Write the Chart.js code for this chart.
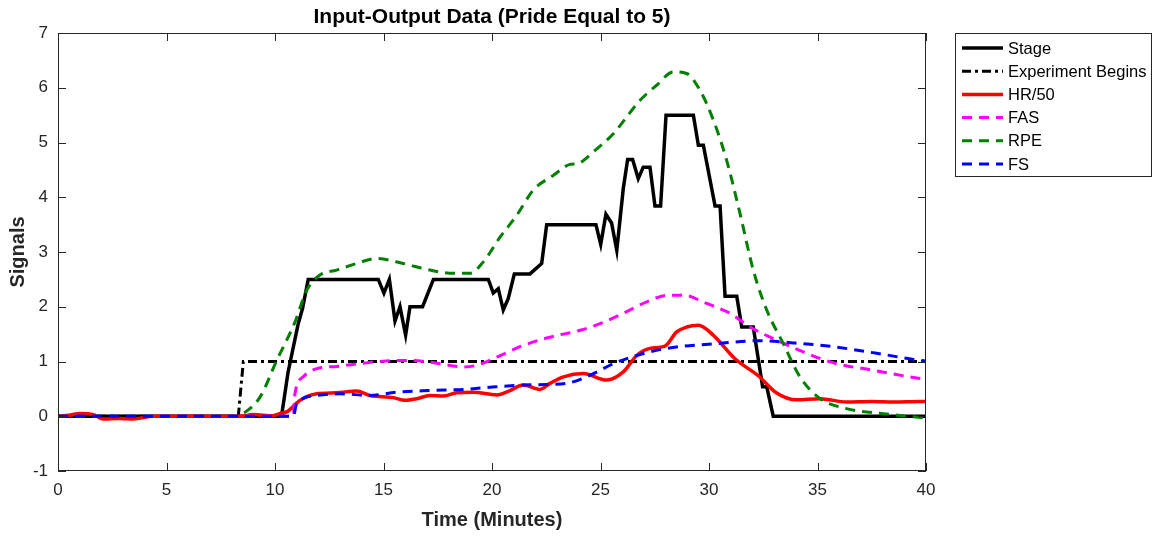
<!DOCTYPE html>
<html>
<head>
<meta charset="utf-8">
<script src="https://cdn.jsdelivr.net/npm/chart.js@4.4.1/dist/chart.umd.min.js"></script>
<style>
  html, body { margin: 0; padding: 0; background: #fff; }
</style>
</head>
<body>
<canvas id="chart" width="1154" height="536"></canvas>
<script>
// values (time in minutes)
const stageT = [0, 10.3, 10.6, 11.07, 11.27, 11.53, 14.76, 15.02, 15.27, 15.53, 15.76, 16.02, 16.22, 16.8, 17.3, 19.83, 20.06, 20.29, 20.52, 20.75, 21.03, 21.75, 22.29, 22.52, 24.79, 25.01, 25.25, 25.51, 25.75, 26.05, 26.25, 26.48, 26.74, 26.97, 27.28, 27.51, 27.77, 28.02, 29.28, 29.51, 29.74, 30.28, 30.51, 30.74, 31.28, 31.51, 32.04, 32.47, 32.66, 32.96, 40];
const stageV = [0, 0, 0.8, 1.69, 1.97, 2.5, 2.5, 2.25, 2.5, 1.74, 2.0, 1.48, 2.0, 2.0, 2.5, 2.5, 2.25, 2.33, 1.94, 2.15, 2.6, 2.6, 2.79, 3.5, 3.5, 3.14, 3.69, 3.53, 3.03, 4.16, 4.69, 4.69, 4.34, 4.55, 4.55, 3.84, 3.84, 5.5, 5.5, 4.95, 4.95, 3.84, 3.84, 2.19, 2.19, 1.63, 1.63, 0.54, 0.54, 0, 0];

const expT = [0, 8.31, 8.54, 40];
const expV = [0, 0, 1, 1];

const hrT = [0, 0.5, 1.0, 1.63, 2.09, 2.8, 3.47, 4.4, 5.5, 6.5, 7.5, 8.39, 9.0, 9.92, 10.23, 10.54, 11.0, 11.15, 11.92, 12.84, 13.76, 14.38, 15.45, 15.99, 16.53, 17.14, 17.76, 18.37, 19.14, 20.22, 20.83, 21.44, 22.21, 22.67, 23.29, 24.21, 25.28, 26.05, 26.67, 27.28, 27.97, 28.51, 28.97, 29.51, 30.2, 31.2, 32.3, 33.1, 34.04, 35.12, 36.34, 37.5, 38.5, 39.72, 40];
const hrV = [0, 0.02, 0.05, 0.03, -0.05, -0.04, -0.05, 0, 0, 0, 0, 0, 0.03, 0.01, 0.05, 0.08, 0.24, 0.29, 0.41, 0.43, 0.46, 0.38, 0.34, 0.29, 0.32, 0.38, 0.37, 0.43, 0.44, 0.39, 0.47, 0.57, 0.49, 0.6, 0.72, 0.78, 0.66, 0.81, 1.11, 1.24, 1.28, 1.54, 1.63, 1.66, 1.48, 1.05, 0.73, 0.43, 0.30, 0.32, 0.26, 0.27, 0.26, 0.27, 0.27];

const fasT = [0, 10.84, 10.92, 11.3, 11.92, 12.84, 14.07, 15.14, 16.22, 17.45, 18.68, 19.29, 20.22, 21.29, 22.52, 24.06, 24.98, 26.05, 27.13, 28.12, 28.82, 29.89, 30.97, 31.89, 33.12, 34.5, 35.88, 37.57, 39.72, 40];
const fasV = [0, 0, 0.41, 0.72, 0.87, 0.91, 0.97, 1.01, 1.02, 0.97, 0.90, 0.93, 1.08, 1.27, 1.43, 1.57, 1.69, 1.88, 2.09, 2.21, 2.21, 2.06, 1.88, 1.63, 1.39, 1.15, 0.96, 0.84, 0.69, 0.68];

const rpeT = [0, 8.3, 8.54, 9.31, 10.08, 10.92, 11.46, 12.07, 12.84, 13.76, 14.69, 15.91, 17.14, 18.22, 18.99, 19.6, 20.37, 21.14, 21.9, 22.83, 23.59, 23.98, 24.67, 25.59, 26.82, 27.6, 28.36, 28.97, 29.59, 30.2, 30.81, 31.43, 32.04, 32.66, 33.42, 34.19, 35.12, 36.34, 38.19, 39.66, 40];
const rpeV = [0, 0, 0.05, 0.35, 1.02, 1.72, 2.30, 2.58, 2.67, 2.79, 2.88, 2.79, 2.67, 2.61, 2.61, 2.82, 3.27, 3.67, 4.13, 4.40, 4.60, 4.62, 4.83, 5.16, 5.77, 6.05, 6.29, 6.26, 5.95, 5.41, 4.68, 3.70, 2.67, 1.94, 1.33, 0.72, 0.32, 0.14, 0.04, -0.02, -0.03];

const fsT = [0, 10.84, 11.0, 11.92, 13.0, 14.38, 15.61, 17.14, 18.68, 20.22, 21.44, 22.52, 23.44, 24.52, 25.59, 26.67, 28.05, 30.2, 32.35, 33.88, 35.73, 37.73, 39.72, 40];
const fsV = [0, 0, 0.23, 0.38, 0.41, 0.38, 0.44, 0.47, 0.49, 0.54, 0.57, 0.58, 0.60, 0.75, 0.96, 1.11, 1.24, 1.32, 1.38, 1.34, 1.27, 1.15, 1.02, 1.01];

const xTicks = [0, 5, 10, 15, 20, 25, 30, 35, 40];
const yTicks = [-1, 0, 1, 2, 3, 4, 5, 6, 7];

const axisColor = '#262626';
const font = '"Liberation Sans", Arial, Helvetica, sans-serif';

function pts(t, v) {
    return t.map((x, i) => ({ x: x, y: v[i] }));
}

function series(label, t, v, color, dash, width, order, smooth) {
    return {
        label: label,
        data: pts(t, v),
        borderColor: color,
        backgroundColor: color,
        borderWidth: width,
        borderDash: dash,
        pointRadius: 0,
        fill: false,
        order: order,
        cubicInterpolationMode: smooth ? 'monotone' : 'default',
        tension: 0
    };
}

// MATLAB-like box, inner ticks, title and legend
const matlabFrame = {
    id: 'matlabFrame',
    afterDatasetsDraw(chart) {
        const ctx = chart.ctx;
        const a = chart.chartArea;
        const xs = chart.scales.x, ys = chart.scales.y;
        ctx.save();
        ctx.strokeStyle = axisColor;
        ctx.lineWidth = 1;
        ctx.strokeRect(a.left + 0.5, a.top + 0.5, a.right - a.left - 1, a.bottom - a.top - 1);
        ctx.beginPath();
        xTicks.forEach(v => {
            const px = Math.round(xs.getPixelForValue(v)) + 0.5;
            ctx.moveTo(px, a.bottom); ctx.lineTo(px, a.bottom - 8);
            ctx.moveTo(px, a.top); ctx.lineTo(px, a.top + 8);
        });
        yTicks.forEach(v => {
            const py = Math.round(ys.getPixelForValue(v)) + 0.5;
            ctx.moveTo(a.left, py); ctx.lineTo(a.left + 8, py);
            ctx.moveTo(a.right, py); ctx.lineTo(a.right - 8, py);
        });
        ctx.stroke();

        // title
        ctx.fillStyle = '#000';
        ctx.font = 'bold 21px ' + font;
        ctx.textAlign = 'center';
        ctx.textBaseline = 'middle';
        ctx.fillText('Input-Output Data (Pride Equal to 5)', (a.left + a.right) / 2, 17);

        // legend
        const lx = 955, ly = 33, lw = 197, lh = 144;
        ctx.fillStyle = '#fff';
        ctx.fillRect(lx, ly, lw, lh);
        ctx.strokeStyle = axisColor;
        ctx.strokeRect(lx + 0.5, ly + 0.5, lw - 1, lh - 1);
        ctx.font = '16.5px ' + font;
        ctx.textAlign = 'left';
        chart.data.datasets.forEach((ds, i) => {
            const y = ly + 15 + i * 23.2;
            ctx.beginPath();
            ctx.strokeStyle = ds.borderColor;
            ctx.lineWidth = ds.borderWidth;
            ctx.setLineDash(ds.borderDash || []);
            ctx.moveTo(962, y);
            ctx.lineTo(1003, y);
            ctx.stroke();
            ctx.setLineDash([]);
            ctx.fillStyle = '#000';
            ctx.fillText(ds.label, 1008, y + 1);
        });
        ctx.restore();
    }
};

const chart = new Chart(document.getElementById('chart'), {
    type: 'line',
    data: {
        datasets: [
            series('Stage', stageT, stageV, '#000000', [], 3.5, 6, false),
            series('Experiment Begins', expT, expV, '#000000', [9, 4, 3, 4], 3, 5, false),
            series('HR/50', hrT, hrV, '#ff0000', [], 3.5, 4, true),
            series('FAS', fasT, fasV, '#ff00ff', [10, 7], 3, 3, true),
            series('RPE', rpeT, rpeV, '#008000', [10, 7], 3, 2, true),
            series('FS', fsT, fsV, '#0000ff', [10, 7], 3, 1, true)
        ]
    },
    options: {
        responsive: false,
        animation: false,
        layout: { padding: { top: 33, right: 228, left: 0, bottom: 0 } },
        plugins: {
            legend: { display: false },
            tooltip: { enabled: false },
            title: { display: false }
        },
        scales: {
            x: {
                type: 'linear',
                min: 0, max: 40,
                afterFit: s => { s.height = 65; },
                afterBuildTicks: s => { s.ticks = xTicks.map(v => ({ value: v })); },
                grid: { display: false, drawTicks: false },
                border: { display: false },
                ticks: { color: axisColor, font: { family: font, size: 17 }, padding: 9, maxRotation: 0 },
                title: { display: true, text: 'Time (Minutes)', color: '#262626', font: { family: font, size: 20, weight: 'bold' }, padding: { top: 0, bottom: 4 } }
            },
            y: {
                type: 'linear',
                min: -1, max: 7,
                afterFit: s => { s.width = 58; },
                afterBuildTicks: s => { s.ticks = yTicks.map(v => ({ value: v })); },
                grid: { display: false, drawTicks: false },
                border: { display: false },
                ticks: { color: axisColor, font: { family: font, size: 17 }, padding: 10 },
                title: { display: true, text: 'Signals', color: '#262626', font: { family: font, size: 20, weight: 'bold' }, padding: { top: 6, bottom: 0 } }
            }
        }
    },
    plugins: [matlabFrame]
});
</script>
</body>
</html>
